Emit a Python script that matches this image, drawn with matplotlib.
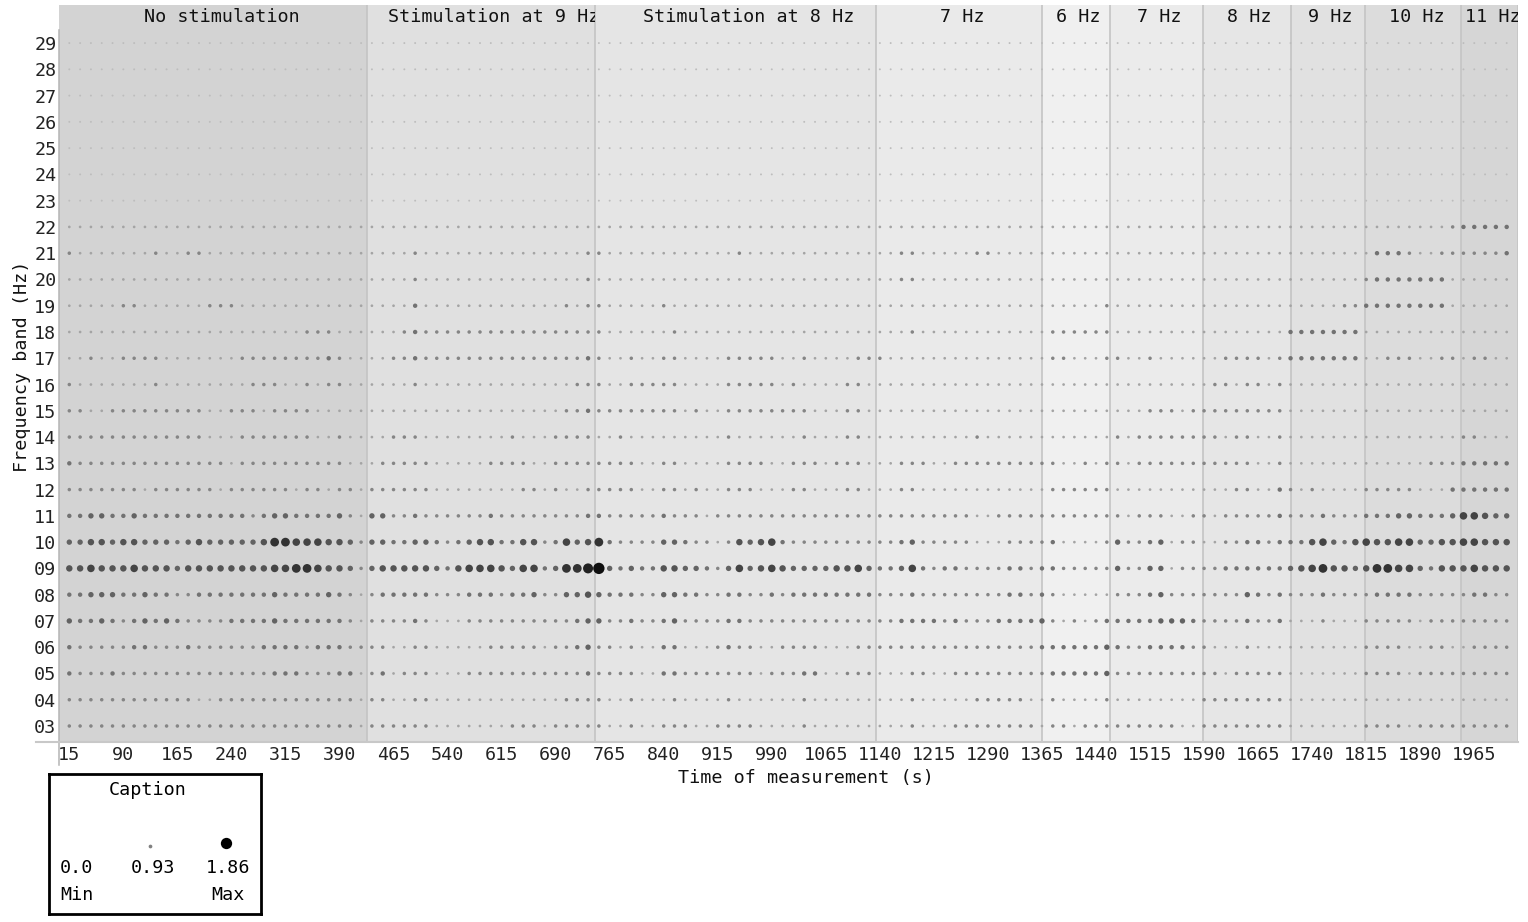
import numpy as np
import matplotlib
matplotlib.use("Agg")
import matplotlib.pyplot as plt
from matplotlib.transforms import Bbox, TransformedBbox, offset_copy

plt.rcParams['font.family'] = ['DejaVu Sans Mono', 'DejaVu Sans']

# measurement times (one every 15 s) and frequency bands
times = np.arange(15, 2011, 15)
bands = list(range(3, 30))

lvl_03 = "2222222222 2222222222 2222222122 2222111111 1222122222 1121122211 2222111121 1111111121 1122222222 1221222222 2221122222 2221111111 2222122222 2222"
lvl_04 = "2222222222 2211222222 2222222122 1122111111 1111112222 1121112111 1211111121 1111111121 1111222221 1211112111 1111122222 2221111111 1111111111 1111"
lvl_05 = "3222322222 2222222223 3322233123 1222111222 2222222232 2221133222 2222122233 1122211122 1122222222 2333334222 2222222122 2221111111 2222122222 2222"
lvl_06 = "3222223322 2322222233 3323332222 1122111112 2222122342 2121133111 2322112222 1112222222 2222222222 3333334322 3333221112 1111111111 2222112211 2222"
lvl_07 = "4334323434 3222233334 3333332122 2232111222 2222222344 2232234222 2332222222 2222222333 3232223333 4212123333 3444322223 2231112111 2222212222 2222"
lvl_08 = "3344433433 2233333334 3333432123 3333222333 2334224454 3332244332 2332232333 3333322232 2222222332 3211111222 3422222224 3232223222 2333322222 3322"
lvl_09 = "5565556555 4555555556 6776554245 5555435666 5466347789 4343355443 2464565444 4556433463 2332222332 3322222422 4412222333 3334567554 5776643555 6555"
lvl_10 = "4455455444 3454444457 7666554244 3344323455 3355236457 3222244322 1254563222 2222222342 2222111222 2311112422 3412211223 3233356435 6556644556 6555"
lvl_11 = "3344334333 3333333234 4333342144 2232222223 2222222233 2222232221 2222222222 2222222222 2222112222 2222222212 2211221222 2232223222 3334433346 6544"
lvl_12 = "2222222122 2222122222 2122122122 2222111111 1122121122 2221122121 1222111221 1122111221 1111111111 1222222111 1111111122 1132121111 2222211133 3333"
lvl_13 = "3222222222 2222212222 2222221112 2222111112 2221122222 2221122111 1222211222 1222111222 1122222222 2211212212 2222222222 1121111111 1111112223 3333"
lvl_14 = "2222222222 2221112222 2221121111 2221111111 1211122221 1211111111 1211111121 1122111111 1111211111 1111111212 2222222122 1121111111 1111111112 2111"
lvl_15 = "2211222222 2221122212 2221111111 1111111111 1111112232 2222222121 1222222221 1122111111 1111111111 1111111111 2221222222 2221111111 1111111111 1111"
lvl_16 = "2111111121 1111111222 1121221111 1121111111 1111111222 1122222111 1222221211 1122111111 1111111111 1111111111 1111112212 2121111111 1111111111 1111"
lvl_17 = "1121122221 1111112222 2222321111 2232222222 2222222232 1121122111 1222221121 1112221111 1111111111 1221112211 2111111222 2123333333 1122211221 2211"
lvl_18 = "1111111111 1111111111 1122211111 1232222222 2222222222 1111112111 1111111111 1111111121 1111111111 1222222111 1111111111 1113333333 1111111111 1111"
lvl_19 = "1111122111 1112221111 1111111111 1131111111 1111112122 1111121111 1111111111 1111111111 1111111111 1111112111 1111111111 1111111122 3333333311 1111"
lvl_20 = "1111111111 1111111111 1111111111 1121111111 1111111121 1111111111 1111111111 1111111221 1111111111 1111111111 1111111111 1111111111 2333333311 1111"
lvl_21 = "2111111121 1221111111 1111111111 1121111111 1111111122 1111111111 1121111111 1111111221 1111221111 1111111111 1111111111 1111111111 1333211222 2223"
lvl_22 = "1111111111 1111111111 1111111111 1111111111 1111111111 1111111111 1111111111 1111111111 1111111111 1111111111 1111111111 1111111111 1111111123 3333"
lvl_23 = "0000000000 0000000000 0000000000 0000000000 0000000000 0000000000 0000000000 0000000000 0000000000 0000000000 0000000000 0000000000 0000000000 0000"
lvl_24 = lvl_23
lvl_25 = lvl_23
lvl_26 = lvl_23
lvl_27 = lvl_23
lvl_28 = lvl_23
lvl_29 = lvl_23

levels = [lvl_03, lvl_04, lvl_05, lvl_06, lvl_07, lvl_08, lvl_09, lvl_10, lvl_11,
          lvl_12, lvl_13, lvl_14, lvl_15, lvl_16, lvl_17, lvl_18, lvl_19, lvl_20,
          lvl_21, lvl_22, lvl_23, lvl_24, lvl_25, lvl_26, lvl_27, lvl_28, lvl_29]

seg_names = ["No stimulation", "Stimulation at 9 Hz", "Stimulation at 8 Hz", "7 Hz",
             "6 Hz", "7 Hz", "8 Hz", "9 Hz", "10 Hz", "11 Hz"]
seg_edges = [0, 427.5, 745, 1135, 1365, 1459, 1588, 1710, 1813, 1947, 2025]
seg_colors = ["#d3d3d3", "#e0e0e0", "#e5e5e5", "#eaeaea", "#f0f0f0",
              "#ebebeb", "#e6e6e6", "#e1e1e1", "#dcdcdc", "#d6d6d6"]

caption_vals = [0.0, 0.93, 1.86]
vmax = 1.86
FS = 13.25


def to_value(digit):
    return 0.62 + 0.138 * digit


def dot_size(v):
    d_px = 11.3 * (np.asarray(v) / vmax) ** 1.6
    return (d_px * 0.72) ** 2


def dot_gray(v):
    g = np.interp(v, [0.62, 0.76, 0.90, 1.03, 1.31, 1.59, 1.86],
                  [0.74, 0.64, 0.52, 0.45, 0.33, 0.20, 0.06])
    return np.column_stack([g, g, g])


xs, ys, vs = [], [], []
for band, row in zip(bands, levels):
    digits = row.replace(" ", "")
    assert len(digits) == len(times), (band, len(digits))
    for t, ch in zip(times, digits):
        xs.append(t)
        ys.append(band)
        vs.append(to_value(int(ch)))
vs = np.array(vs)

W, H = 1528, 922
fig = plt.figure(figsize=(W / 100, H / 100), dpi=100)
ax = fig.add_axes([58.5 / W, 1 - 741.5 / H, 1459 / W, 736 / H])
ylo, yhi = 2.41, 30.43
ax.set_xlim(0, 2025)
ax.set_ylim(ylo, yhi)

for i, name in enumerate(seg_names):
    x0, x1 = seg_edges[i], seg_edges[i + 1]
    ax.axvspan(x0, x1, color=seg_colors[i], lw=0, zorder=0)
    dx = 0.06 * len(name) * 11.07 * 0.72
    tr = offset_copy(ax.transData, fig=fig, x=dx, y=0, units='points')
    t = ax.text((x0 + x1) / 2, 30.0, name, ha='center', va='center',
                fontsize=FS, color='#111111', transform=tr)
    t.set_clip_box(TransformedBbox(Bbox([[x0, ylo], [x1, yhi]]), ax.transData))
    t.set_clip_on(True)

for e in seg_edges[1:]:
    ax.axvline(e, color='#c4c4c4', lw=1.2, zorder=1)

ax.scatter(xs, ys, s=dot_size(vs), c=dot_gray(vs), linewidths=0, zorder=3)

for sp in ax.spines.values():
    sp.set_visible(False)
ax.plot([0, 0], [1.52, 29.5], color='#b4b4b4', lw=1.1, clip_on=False, zorder=4)
ax.plot([-31, 2025], [ylo, ylo], color='#c8c8c8', lw=1.5, clip_on=False, zorder=4)

ax.set_xticks(np.arange(15, 2000, 75))
ax.set_yticks(bands)
ax.set_yticklabels([f"{b:02d}" for b in bands])
ax.tick_params(axis='x', length=0, labelsize=FS, pad=3, labelcolor='#222222')
ax.tick_params(axis='y', length=0, labelsize=FS, pad=1.5, labelcolor='#222222')

fig.text(806 / W, 1 - 778 / H, "Time of measurement (s)", ha='center', va='center',
         fontsize=FS, color='#111111')
fig.text(22 / W, 1 - 366 / H, "Frequency band (Hz)", ha='center', va='center',
         rotation=90, fontsize=FS, color='#111111')

# caption box
lg = fig.add_axes([49 / W, 1 - 914 / H, 212 / W, 140 / H])
lg.set_xlim(0, 212)
lg.set_ylim(140, 0)
lg.set_xticks([])
lg.set_yticks([])
for sp in lg.spines.values():
    sp.set_linewidth(2.0)
    sp.set_color('black')
lg.text(99, 16, "Caption", ha='center', va='center', fontsize=FS)
dot_x = [None, 101, 177]
dot_y = [None, 72, 69]
for v, dx_, dy_ in zip(caption_vals, dot_x, dot_y):
    if v > 0:
        col = [[0, 0, 0]] if v == vmax else dot_gray(v)
        lg.scatter([dx_], [dy_], s=dot_size(v), c=col, linewidths=0)
lg.text(11, 94, f"{caption_vals[0]}", ha='left', va='center', fontsize=FS)
lg.text(104, 94, f"{caption_vals[1]}", ha='center', va='center', fontsize=FS)
lg.text(179, 94, f"{caption_vals[2]}", ha='center', va='center', fontsize=FS)
lg.text(11, 121, "Min", ha='left', va='center', fontsize=FS)
lg.text(179, 121, "Max", ha='center', va='center', fontsize=FS)

fig.savefig("out.png", dpi=100)
